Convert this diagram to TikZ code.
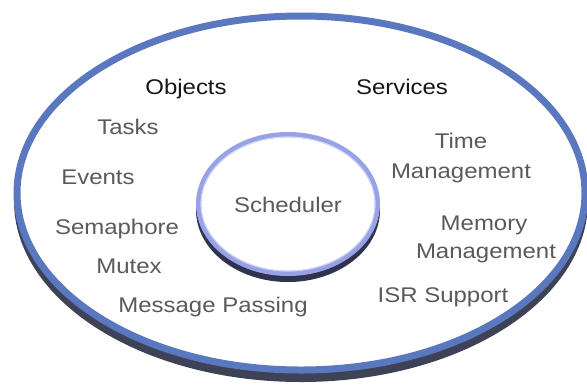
\documentclass[tikz,border=0pt]{standalone}
\usepackage{fontspec}
\setmainfont[FakeStretch=1.13]{Liberation Sans}
\definecolor{ringblue}{HTML}{5A78C0}
\definecolor{ringshadow}{HTML}{3E4257}
\definecolor{innerblue}{HTML}{97A1E6}
\definecolor{innerlight}{HTML}{CDD2F6}
\definecolor{innershadow}{HTML}{30334F}
\definecolor{lbl}{HTML}{5A5A5A}
\definecolor{hdr}{HTML}{151515}
\tikzset{
  item/.style={anchor=base, text=lbl, font=\fontsize{21.3}{25}\selectfont, inner sep=0pt},
  header/.style={item, text=hdr},
}
\begin{document}
\begin{tikzpicture}[x=1bp,y=-1bp]
\useasboundingbox (0,0) rectangle (587,389);
% outer disc
\fill[ringshadow] (301,201) ellipse [x radius=287, y radius=181];
\fill[white] (301,193) ellipse [x radius=284, y radius=177];
\draw[ringblue, line width=7bp] (301,193) ellipse [x radius=284, y radius=177];
% inner disc
\fill[innershadow] (288,210) ellipse [x radius=92, y radius=72];
\fill[white] (288,204) ellipse [x radius=89.5, y radius=69.5];
\draw[innerblue, line width=5bp] (288,204) ellipse [x radius=89.5, y radius=69.5];
\draw[innerlight, line width=1.2bp] (288,204) ellipse [x radius=87, y radius=67];
% texts
\node[header] (objects) at (186,94.5) {Objects};
\node[header] (services) at (402,94.5) {Services};
\node[item] (tasks) at (128,134.5) {Tasks};
\node[item] (events) at (98,184.5) {Events};
\node[item] (sem) at (117,234.5) {Semaphore};
\node[item] (mutex) at (129,273.5) {Mutex};
\node[item] (msg) at (213,312.5) {Message Passing};
\node[item] (sched) at (288,212.5) {Scheduler};
\node[item] (time) at (461,148.5) {Time};
\node[item] (timemgmt) at (461,178.5) {Management};
\node[item] (memory) at (484,230.5) {Memory};
\node[item] (memmgmt) at (486,258.5) {Management};
\node[item] (isr) at (443,302.5) {ISR Support};
\end{tikzpicture}
\end{document}
